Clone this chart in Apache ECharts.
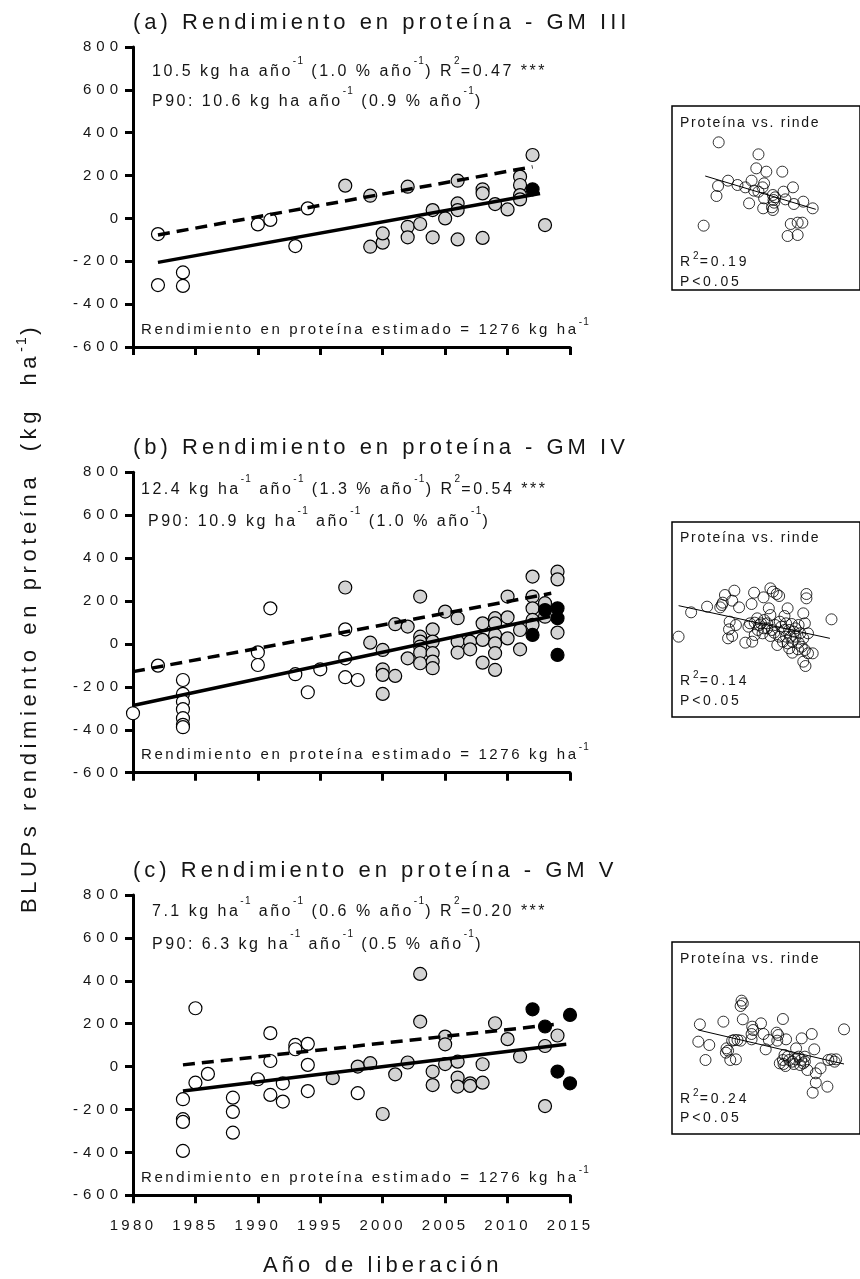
<!DOCTYPE html>
<html><head><meta charset="utf-8">
<script src="https://cdn.jsdelivr.net/npm/echarts@6/dist/echarts.min.js"></script>
<style>html,body{margin:0;padding:0;background:#fff}#c{width:860px;height:1279px}</style>
</head><body><div id="c"></div>
<script>
// ---- data ----
var years = [1980, 1985, 1990, 1995, 2000, 2005, 2010, 2015];
var yTicks = [-600, -400, -200, 0, 200, 400, 600, 800];

// Panel (a) GM III
var aWhite = [[1982,-73],[1982,-311],[1984,-252],[1984,-315],[1990,-28],[1991,-7],[1993,-129],[1994,47]];
var aGray = [[1997,153],[1999,-132],[1999,106],[2000,-113],[2000,-70],[2002,148],[2002,-39],[2002,-88],[2003,-26],[2004,39],[2004,-88],[2005,0],[2006,176],[2006,70],[2006,39],[2006,-98],[2008,136],[2008,117],[2008,-91],[2009,67],[2010,42],[2011,195],[2011,156],[2011,109],[2011,89],[2012,296],[2013,-31]];
var aBlack = [[2012,136]];
var aFit = [[1982,-205],[2012.6,116]];
var aP90 = [[1982,-77],[2012,241]];

// Panel (b) GM IV
var bWhite = [[1980,-323],[1982,-101],[1984,-168],[1984,-233],[1984,-269],[1984,-304],[1984,-346],[1984,-377],[1984,-388],[1990,-39],[1990,-98],[1991,166],[1993,-141],[1994,-225],[1995,-118],[1997,68],[1997,-67],[1997,-155],[1998,-168]];
var bGray = [[1997,263],[1999,6],[2000,-28],[2000,-118],[2000,-144],[2000,-233],[2001,92],[2001,-149],[2002,81],[2002,-67],[2003,221],[2003,34],[2003,11],[2003,-12],[2003,-40],[2003,-90],[2004,68],[2004,11],[2004,-43],[2004,-82],[2004,-113],[2005,151],[2006,120],[2006,11],[2006,-40],[2007,11],[2007,-25],[2008,96],[2008,19],[2008,-87],[2009,120],[2009,96],[2009,42],[2009,3],[2009,-43],[2009,-121],[2010,221],[2010,124],[2010,26],[2011,65],[2011,-25],[2012,314],[2012,221],[2012,166],[2012,112],[2012,89],[2013,190],[2013,127],[2014,337],[2014,301],[2014,53]];
var bBlack = [[2012,42],[2013,158],[2014,166],[2014,120],[2014,-51]];
var bFit = [[1980,-287],[2013.4,128]];
var bP90 = [[1980,-129],[2013.5,236]];

// Panel (c) GM V
var cWhite = [[1984,-152],[1984,-245],[1984,-258],[1984,-393],[1985,272],[1985,-75],[1986,-34],[1988,-145],[1988,-211],[1988,-308],[1990,-59],[1991,156],[1991,26],[1991,-132],[1992,-78],[1992,-163],[1993,101],[1993,81],[1994,106],[1994,8],[1994,-114],[1998,-124]];
var cGray = [[1996,-54],[1998,0],[1999,16],[2000,-221],[2001,-36],[2002,19],[2003,432],[2003,210],[2004,-23],[2004,-86],[2005,140],[2005,104],[2005,12],[2006,23],[2006,-51],[2006,-93],[2007,-78],[2007,-90],[2008,-75],[2008,11],[2009,202],[2010,128],[2011,47],[2013,96],[2013,-184],[2014,145]];
var cBlack = [[2012,267],[2013,187],[2014,-23],[2015,241],[2015,-78]];
var cFit = [[1984,-114],[2014.7,104]];
var cP90 = [[1984,8],[2014,198]];

// Insets: proteína vs. rinde (relative units, y grows downward = lower protein)
var insA = [[185,127],[312,163],[137,377],[305,205],[337,215],[388,215],[215,242],[183,258],[245,255],[290,242],[270,262],[298,272],[330,250],[325,262],[178,288],[282,310],[330,295],[358,285],[365,292],[360,300],[362,308],[355,322],[392,275],[422,262],[398,298],[425,312],[455,305],[485,325],[327,325],[358,330],[415,372],[437,368],[452,368],[405,408],[437,405],[312,275]];
var insALine = [[142,228],[495,328]];
var insB = [[57,440],[97,367],[148,350],[190,352],[198,338],[195,345],[205,315],[235,302],[228,332],[250,352],[220,395],[240,405],[218,418],[228,438],[215,445],[270,458],[292,455],[280,410],[298,308],[290,342],[328,322],[350,295],[358,305],[370,312],[378,318],[345,355],[350,375],[308,385],[320,400],[330,390],[310,420],[300,435],[325,430],[350,438],[340,415],[365,405],[380,395],[395,378],[405,355],[395,420],[378,440],[390,455],[405,460],[372,465],[415,440],[425,425],[440,405],[455,370],[465,312],[465,325],[460,400],[430,440],[440,458],[450,470],[438,478],[460,480],[470,430],[485,490],[455,515],[462,528],[470,490],[545,388],[410,475],[420,488],[400,400],[418,402],[355,420],[330,415],[300,398],[285,400],[315,405],[340,400],[362,428],[385,410],[410,420],[430,415],[445,430],[455,445],[420,455],[400,440]];
var insBLine = [[57,347],[540,445]];
var insC = [[258,122],[262,130],[255,138],[125,193],[200,185],[262,178],[390,177],[585,208],[320,190],[292,200],[295,210],[290,222],[328,222],[370,218],[375,225],[290,238],[245,240],[235,240],[228,242],[255,242],[345,240],[372,242],[400,238],[450,235],[482,222],[120,245],[155,255],[210,265],[215,272],[208,278],[222,300],[240,298],[143,300],[335,268],[432,265],[490,268],[395,285],[405,290],[390,300],[392,312],[410,300],[420,305],[430,298],[440,290],[448,300],[455,310],[460,305],[445,315],[425,312],[468,330],[495,340],[510,325],[535,300],[545,298],[555,305],[560,298],[495,368],[485,398],[532,380],[398,318],[380,310],[460,290]];
var insCLine = [[120,210],[585,312]];

// ---- letter spacing support for canvas text (encoded in font family "lsNN") ----
(function(){
  var proto = CanvasRenderingContext2D.prototype;
  var d = Object.getOwnPropertyDescriptor(proto, 'font');
  if (!d || !('letterSpacing' in proto)) return;
  Object.defineProperty(proto, 'font', {configurable: true, enumerable: d.enumerable,
    get: function(){ return d.get.call(this); },
    set: function(v){ d.set.call(this, v); var m = /ls(\d+)/.exec(v); this.letterSpacing = (m ? (+m[1] / 10) : 0) + 'px'; }
  });
})();

var FF = '"Liberation Sans", Arial, sans-serif';
function fam(ls){ return 'ls' + Math.round(ls * 10) + ', ' + FF; }
var INK = '#151515';

function T(x, y, text, size, ls, supOff, supSize, extra){
  supSize = supSize || Math.round(size * 0.7);
  supOff = supOff || 0;
  var st = {
    text: text, x: 0, y: 0, fill: INK, fontSize: size, fontFamily: fam(ls),
    textAlign: 'left', align: 'left', textVerticalAlign: 'middle', verticalAlign: 'middle',
    lineHeight: supSize + 2 * supOff,
    rich: { sup: { fontSize: supSize, fontFamily: fam(ls * 0.5), verticalAlign: 'top', lineHeight: supSize, fill: INK } }
  };
  var el = {type: 'text', x: x, y: y, style: st, z: 10, silent: true};
  if (extra) for (var k in extra) el[k] = extra[k];
  return el;
}

var mainGrids = [
  {left: 133, top: 47, width: 437, height: 300},
  {left: 133, top: 472.3, width: 437, height: 300.4},
  {left: 133, top: 895, width: 437, height: 300.3}
];
var insetGrids = [
  {left: 672, top: 106, width: 200, height: 184, y: [18, 570]},
  {left: 672, top: 522, width: 200, height: 195, y: [96, 681]},
  {left: 672, top: 942, width: 200, height: 192, y: [-54, 522]}
];

var grid = [], xAxis = [], yAxis = [], series = [];
mainGrids.forEach(function(g, i){
  grid.push({left: g.left, top: g.top, width: g.width, height: g.height, containLabel: false});
  xAxis.push({type: 'value', gridIndex: i, min: years[0], max: years[years.length - 1], interval: 5,
    axisLine: {show: true, onZero: false, lineStyle: {color: '#000', width: 3}},
    axisTick: {show: true, length: 8, lineStyle: {color: '#000', width: 3}},
    splitLine: {show: false},
    axisLabel: {show: i === 2, margin: 21, fontSize: 15, fontFamily: fam(3.3), color: INK,
      formatter: function(v){ return String(v); }}
  });
  yAxis.push({type: 'value', gridIndex: i, min: yTicks[0], max: yTicks[yTicks.length - 1], interval: 200,
    axisLine: {show: true, onZero: false, lineStyle: {color: '#000', width: 3}},
    axisTick: {show: true, length: 8, lineStyle: {color: '#000', width: 3}},
    splitLine: {show: false},
    axisLabel: {show: true, margin: 10, fontSize: 15, fontFamily: fam(5), color: INK,
      formatter: function(v){ return String(v); }}
  });
});
insetGrids.forEach(function(g, j){
  grid.push({left: g.left, top: g.top, width: g.width, height: g.height, show: true, borderColor: '#000', borderWidth: 1.5, backgroundColor: 'transparent'});
  xAxis.push({type: 'value', gridIndex: 3 + j, min: 36, max: 636, show: false});
  yAxis.push({type: 'value', gridIndex: 3 + j, min: g.y[0], max: g.y[1], inverse: true, show: false});
});

function sc(data, gi, color){
  return {type: 'scatter', xAxisIndex: gi, yAxisIndex: gi, data: data, symbolSize: 13, silent: true, z: 2,
    itemStyle: {color: color, borderColor: '#000', borderWidth: 1.2, opacity: 1}};
}
function ln(data, gi, dashed, w){
  return {type: 'line', xAxisIndex: gi, yAxisIndex: gi, data: data, symbol: 'none', showSymbol: false, silent: true, z: 3,
    lineStyle: {color: '#000', width: w || 3.5, type: dashed ? [12, 7] : 'solid', cap: 'butt'}};
}
[[aWhite, aGray, aBlack, aFit, aP90], [bWhite, bGray, bBlack, bFit, bP90], [cWhite, cGray, cBlack, cFit, cP90]].forEach(function(p, i){
  series.push(sc(p[0], i, '#ffffff'));
  series.push(sc(p[1], i, '#d3d3d3'));
  series.push(sc(p[2], i, '#000000'));
  series.push(ln(p[3], i, false));
  series.push(ln(p[4], i, true));
});
[[insA, insALine], [insB, insBLine], [insC, insCLine]].forEach(function(p, j){
  var gi = 3 + j;
  series.push({type: 'scatter', xAxisIndex: gi, yAxisIndex: gi, data: p[0], symbolSize: 11, silent: true,
    itemStyle: {color: 'rgba(255,255,255,0)', borderColor: '#000', borderWidth: 1}});
  series.push(ln(p[1], gi, false, 1));
});

var graphic = [
  T(133, 23, '(a) Rendimiento en proteína - GM III', 22, 4),
  T(152, 72, '10.5 kg ha año{sup|-1} (1.0 % año{sup|-1}) R{sup|2}=0.47 ***', 16, 2.5, 11, 10),
  T(152, 102, 'P90: 10.6 kg ha año{sup|-1} (0.9 % año{sup|-1})', 16, 2.5, 11, 10),
  T(141, 330, 'Rendimiento en proteína estimado = 1276 kg ha{sup|-1}', 15, 2.6, 8, 10),

  T(133, 448, '(b) Rendimiento en proteína - GM IV', 22, 4),
  T(141, 490, '12.4 kg ha{sup|-1} año{sup|-1} (1.3 % año{sup|-1}) R{sup|2}=0.54 ***', 16, 2.5, 11, 10),
  T(148, 522, 'P90: 10.9 kg ha{sup|-1} año{sup|-1} (1.0 % año{sup|-1})', 16, 2.5, 11, 10),
  T(141, 755, 'Rendimiento en proteína estimado = 1276 kg ha{sup|-1}', 15, 2.6, 8, 10),

  T(133, 871, '(c) Rendimiento en proteína - GM V', 22, 4),
  T(152, 912, '7.1 kg ha{sup|-1} año{sup|-1} (0.6 % año{sup|-1}) R{sup|2}=0.20 ***', 16, 2.5, 11, 10),
  T(152, 945, 'P90: 6.3 kg ha{sup|-1} año{sup|-1} (0.5 % año{sup|-1})', 16, 2.5, 11, 10),
  T(141, 1178, 'Rendimiento en proteína estimado = 1276 kg ha{sup|-1}', 15, 2.6, 8, 10),

  T(680, 123, 'Proteína vs. rinde', 14, 1.7),
  T(680, 262, 'R{sup|2}=0.19', 14, 2.8, 6, 10),
  T(680, 282, 'P<0.05', 14, 2.8),
  T(680, 538, 'Proteína vs. rinde', 14, 1.7),
  T(680, 681, 'R{sup|2}=0.14', 14, 2.8, 6, 10),
  T(680, 701, 'P<0.05', 14, 2.8),
  T(680, 959, 'Proteína vs. rinde', 14, 1.7),
  T(680, 1099, 'R{sup|2}=0.24', 14, 2.8, 6, 10),
  T(680, 1118, 'P<0.05', 14, 2.8),

  T(263, 1266, 'Año de liberación', 22, 4.1),
  T(30, 618, 'BLUPs rendimiento en proteína  (kg  ha{sup|-1})', 22, 4.6, 9, 14, {rotation: Math.PI / 2})
];
// center the rotated y title
graphic[graphic.length - 1].style.textAlign = 'center';
graphic[graphic.length - 1].style.align = 'center';

var chart = echarts.init(document.getElementById('c'), null, {renderer: 'canvas'});
chart.setOption({
  animation: false,
  backgroundColor: '#ffffff',
  grid: grid, xAxis: xAxis, yAxis: yAxis, series: series, graphic: graphic
});
</script>
</body></html>
